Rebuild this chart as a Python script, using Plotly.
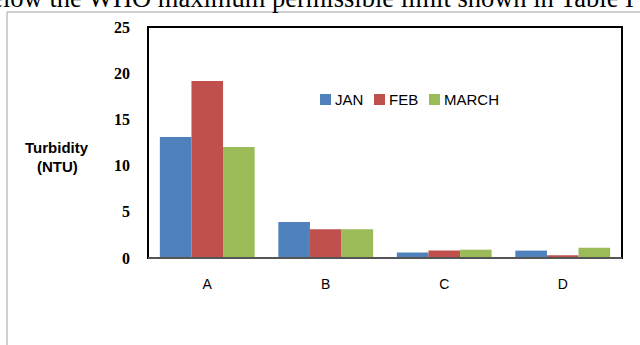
import plotly.graph_objects as go

# Turbidity readings per sampling site, by month
sites = ["A", "B", "C", "D"]
jan = [13.1, 3.9, 0.6, 0.8]
feb = [19.15, 3.1, 0.8, 0.3]
march = [12.0, 3.1, 0.9, 1.1]
y_ticks = [0, 5, 10, 15, 20, 25]

series = [("JAN", jan, "#4F81BD"), ("FEB", feb, "#C0504D"), ("MARCH", march, "#9BBB59")]

fig = go.Figure()
for name, vals, color in series:
    fig.add_trace(go.Bar(x=sites, y=vals, name=name, marker_color=color,
                         marker_line_width=0, showlegend=False))

W, H = 640, 345
L, R, T, B = 148, 622, 27, 258


def px(x):
    return (x - L) / (R - L)


def py(y):
    return (B - y) / (B - T)


SANS = "Liberation Sans, Arial, sans-serif"
SERIF = "Liberation Serif, Times New Roman, serif"

fig.update_layout(
    width=W, height=H,
    margin=dict(l=L, r=W - R, t=T, b=H - B, pad=0),
    paper_bgcolor="white", plot_bgcolor="white",
    barmode="group", bargap=0.2, bargroupgap=0,
    xaxis=dict(showgrid=False, zeroline=False, showline=False,
               tickfont=dict(family=SANS, size=14, color="#000"),
               ticks="", ticklabelstandoff=16),
    yaxis=dict(range=[0, 25], tickvals=y_ticks, showgrid=False, zeroline=False, showline=False,
               tickfont=dict(family=SERIF, size=16, color="#000", weight="bold"),
               ticks="", ticklabelstandoff=17),
)

# Outer frame of the figure panel
fig.add_shape(type="rect", xref="paper", yref="paper",
              x0=px(7), x1=px(660), y0=py(360), y1=py(12),
              line=dict(color="#A0A0A0", width=1), fillcolor="rgba(0,0,0,0)", layer="below")
# Plot area box
fig.add_shape(type="rect", xref="paper", yref="paper", x0=0, x1=1, y0=0, y1=1,
              line=dict(color="#000", width=2), fillcolor="rgba(0,0,0,0)", layer="above")
# Category axis baseline
fig.add_shape(type="line", xref="paper", yref="paper", x0=0, x1=1, y0=0, y1=0,
              line=dict(color="#555555", width=2), layer="above")

# Compact in-plot legend: colour swatch followed by the series name
legend_x = [320, 374, 429]
for (name, _, color), lx in zip(series, legend_x):
    fig.add_shape(type="rect", xref="paper", yref="paper",
                  x0=px(lx), x1=px(lx + 11), y0=py(105), y1=py(94),
                  line=dict(width=0), fillcolor=color, layer="above")
    fig.add_annotation(xref="paper", yref="paper", x=px(lx + 13), y=py(99.5),
                       xanchor="left", yanchor="middle", showarrow=False, text=name,
                       font=dict(family=SANS, size=15, color="#000"))

# Axis title, two lines
for txt, yy in (("Turbidity", 147), ("(NTU)", 166)):
    fig.add_annotation(xref="paper", yref="paper", x=px(57), y=py(yy), xanchor="center",
                       yanchor="middle", showarrow=False, text=f"<b>{txt}</b>",
                       font=dict(family=SANS, size=15, color="#000"))

# Running text line above the figure
fig.add_annotation(xref="paper", yref="paper", x=px(636), y=py(9), xanchor="right",
                   yanchor="bottom", showarrow=False, yshift=-6,
                   text="below the WHO maximum permissible limit shown in Table I",
                   font=dict(family=SERIF, size=26.5, color="#000"))

fig.write_html("out.html")
